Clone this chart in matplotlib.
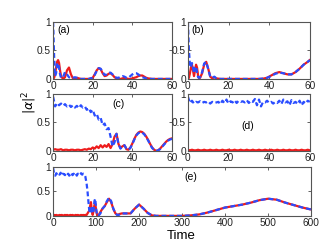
import numpy as np
import matplotlib
matplotlib.use("Agg")
import matplotlib.pyplot as plt

plt.rcParams['font.family'] = ['Liberation Sans', 'DejaVu Sans']

# ---- panel (a)
a_t = [0, 0.5, 1, 1.5, 2, 2.5, 3, 3.5, 4, 5, 6, 7, 8, 9, 10, 11, 12, 13, 14, 16, 18, 20,
       21, 22, 23, 24, 25, 26, 27, 28, 29, 30, 31, 32, 33, 34, 35, 36, 37, 38, 39, 40,
       41, 42, 43, 44, 45, 46, 47, 48, 50, 52, 55, 58, 60]
a_red = [0, 0.02, 0.08, 0.2, 0.3, 0.33, 0.28, 0.15, 0.05, 0.0, 0.03, 0.15, 0.2, 0.08, 0.01,
         0.0, 0.02, 0.01, 0.0, 0, 0, 0.02, 0.08, 0.15, 0.19, 0.17, 0.1, 0.05, 0.06, 0.09,
         0.1, 0.07, 0.03, 0.01, 0, 0, 0.01, 0.02, 0.01, 0, 0, 0.01, 0.02, 0.03, 0.05, 0.06,
         0.06, 0.04, 0.02, 0.01, 0, 0, 0, 0, 0]
a_blue = [1.0, 0.4, 0.05, 0.1, 0.25, 0.28, 0.2, 0.08, 0.02, 0.03, 0.12, 0.08, 0.03, 0.01,
          0.02, 0.03, 0.02, 0.01, 0, 0, 0, 0.02, 0.07, 0.14, 0.19, 0.18, 0.12, 0.07, 0.08,
          0.11, 0.11, 0.08, 0.04, 0.02, 0.02, 0.04, 0.05, 0.04, 0.02, 0.02, 0.05, 0.08, 0.1,
          0.1, 0.08, 0.05, 0.03, 0.02, 0.01, 0.0, 0, 0, 0, 0, 0]

# ---- panel (b)
b_t = [0, 0.5, 1, 1.5, 2, 2.5, 3, 3.5, 4, 4.5, 5, 5.5, 6, 7, 8, 9, 10, 11, 12, 13, 14,
       16, 20, 25, 30, 35, 37, 39, 41, 43, 45, 47, 49, 51, 53, 55, 57, 59, 60]
b_red = [0, 0.02, 0.1, 0.2, 0.25, 0.15, 0.05, 0.15, 0.25, 0.2, 0.06, 0.01, 0.02, 0.1, 0.25,
         0.3, 0.18, 0.04, 0.01, 0.03, 0.01, 0, 0, 0, 0, 0, 0.005, 0.02, 0.06, 0.1, 0.12,
         0.1, 0.08, 0.08, 0.12, 0.18, 0.25, 0.3, 0.33]
b_blue = [1.0, 0.5, 0.25, 0.2, 0.28, 0.2, 0.1, 0.2, 0.22, 0.12, 0.03, 0.02, 0.03, 0.12, 0.27,
          0.3, 0.17, 0.04, 0.02, 0.04, 0.01, 0, 0, 0, 0, 0, 0.005, 0.02, 0.05, 0.09, 0.11,
          0.1, 0.08, 0.08, 0.12, 0.18, 0.25, 0.3, 0.33]

# ---- panel (c)
c_t = list(range(0, 61))
c_red = [0.02, 0.03, 0.02, 0.02, 0.03, 0.01, 0.02, 0.02, 0.01, 0.02, 0.02, 0.01, 0.02, 0.02,
         0.01, 0.02, 0.03, 0.02, 0.04, 0.03, 0.06, 0.04, 0.08, 0.05, 0.1, 0.06, 0.1, 0.07,
         0.12, 0.05, 0.12, 0.25, 0.3, 0.12, 0.05, 0.08, 0.1, 0.03, 0.02, 0.06, 0.13, 0.21,
         0.28, 0.32, 0.34, 0.33, 0.3, 0.25, 0.19, 0.12, 0.06, 0.02, 0.0, 0.01, 0.04, 0.08,
         0.12, 0.16, 0.19, 0.21, 0.22]
c_blue = [0.95, 0.78, 0.84, 0.8, 0.83, 0.79, 0.82, 0.78, 0.81, 0.77, 0.8, 0.76, 0.79, 0.75,
          0.8, 0.76, 0.78, 0.72, 0.75, 0.68, 0.72, 0.62, 0.65, 0.55, 0.58, 0.45, 0.48, 0.38,
          0.4, 0.25, 0.08, 0.15, 0.3, 0.12, 0.04, 0.08, 0.1, 0.04, 0.02, 0.05, 0.12, 0.2,
          0.27, 0.31, 0.33, 0.32, 0.29, 0.24, 0.18, 0.11, 0.05, 0.02, 0.0, 0.01, 0.03, 0.07,
          0.11, 0.15, 0.18, 0.2, 0.21]

# ---- panel (d)
d_t = list(range(0, 61))
d_red = [0.02, 0.01, 0.02, 0.01, 0.01, 0.02, 0.01, 0.01, 0.02, 0.01, 0.01, 0.02, 0.01, 0.01,
         0.02, 0.01, 0.01, 0.02, 0.01, 0.01, 0.02, 0.01, 0.01, 0.02, 0.01, 0.01, 0.02, 0.01,
         0.01, 0.02, 0.01, 0.01, 0.02, 0.01, 0.01, 0.02, 0.01, 0.01, 0.02, 0.01, 0.01, 0.02,
         0.01, 0.01, 0.02, 0.01, 0.01, 0.02, 0.01, 0.01, 0.02, 0.01, 0.01, 0.02, 0.01, 0.01,
         0.02, 0.01, 0.01, 0.02, 0.01]
d_blue = [0.95, 0.84, 0.88, 0.83, 0.86, 0.85, 0.87, 0.84, 0.86, 0.85, 0.87, 0.83, 0.86, 0.84,
          0.85, 0.86, 0.82, 0.88, 0.84, 0.9, 0.83, 0.87, 0.85, 0.89, 0.84, 0.88, 0.86, 0.87,
          0.85, 0.89, 0.84, 0.88, 0.86, 0.91, 0.8, 0.9, 0.78, 0.86, 0.85, 0.88, 0.84, 0.86,
          0.83, 0.86, 0.84, 0.88, 0.82, 0.9, 0.85, 0.87, 0.8, 0.89, 0.84, 0.86, 0.82, 0.88,
          0.8, 0.86, 0.83, 0.88, 0.86]

# ---- panel (e)
e_t = [0, 2.5, 5, 7.5, 10, 12.5, 15, 17.5, 20, 22.5, 25, 27.5, 30, 32.5, 35, 37.5, 40, 42.5,
       45, 47.5, 50, 52.5, 55, 57.5, 60, 62.5, 65, 67.5, 70, 72.5, 75,
       78, 80, 82, 84, 86, 88, 90, 92, 94, 96, 98, 100, 102,
       105, 110, 115, 120, 125, 130, 135, 140, 145, 150, 155, 160,
       170, 180, 190, 200, 210, 220, 230, 240,
       260, 280, 300, 320, 340, 360, 380, 400, 420, 440, 460, 480, 500, 520, 540, 560, 580, 600]
e_red = [0.01, 0.02, 0.01, 0.02, 0.01, 0.01, 0.02, 0.01, 0.02, 0.01, 0.01, 0.02, 0.01, 0.02,
         0.01, 0.01, 0.02, 0.01, 0.02, 0.01, 0.01, 0.02, 0.01, 0.02, 0.01, 0.01, 0.02, 0.01,
         0.02, 0.01, 0.02,
         0.02, 0.05, 0.08, 0.1, 0.2, 0.28, 0.1, 0.02, 0.1, 0.22, 0.25, 0.12, 0.03,
         0.0, 0.08, 0.15, 0.2, 0.28, 0.35, 0.28, 0.14, 0.05, 0.02, 0.04, 0.05,
         0.05, 0.05, 0.15, 0.23, 0.15, 0.06, 0.01, 0.0,
         0, 0, 0, 0.01, 0.03, 0.07, 0.12, 0.17, 0.2, 0.23, 0.27, 0.32, 0.35, 0.33, 0.27,
         0.22, 0.17, 0.13]
e_blue = [0.98, 0.85, 0.82, 0.87, 0.83, 0.86, 0.84, 0.88, 0.82, 0.86, 0.85, 0.83, 0.87, 0.84,
          0.86, 0.82, 0.85, 0.88, 0.83, 0.86, 0.84, 0.87, 0.82, 0.86, 0.85, 0.83, 0.87, 0.84,
          0.86, 0.85, 0.8,
          0.65, 0.5, 0.3, 0.12, 0.05, 0.1, 0.2, 0.05, 0.1, 0.3, 0.35, 0.15, 0.03,
          0.0, 0.05, 0.15, 0.2, 0.3, 0.37, 0.3, 0.15, 0.05, 0.01, 0.03, 0.05,
          0.05, 0.05, 0.15, 0.23, 0.15, 0.06, 0.01, 0.0,
          0, 0, 0, 0.01, 0.03, 0.07, 0.12, 0.17, 0.2, 0.23, 0.27, 0.32, 0.35, 0.33, 0.27,
          0.22, 0.17, 0.13]

red = '#ee1c1c'
blue = '#2a4dff'
edge = '#555555'

fig = plt.figure(figsize=(3.32, 2.49), dpi=100)

panels = [
    ([0.160, 0.683, 0.358, 0.229], a_t, a_red, a_blue, '(a)', (0.04, 0.86, 'left'), 60),
    ([0.566, 0.683, 0.367, 0.229], b_t, b_red, b_blue, '(b)', (0.03, 0.86, 'left'), 60),
    ([0.160, 0.394, 0.358, 0.229], c_t, c_red, c_blue, '(c)', (0.55, 0.82, 'center'), 60),
    ([0.566, 0.394, 0.367, 0.229], d_t, d_red, d_blue, '(d)', (0.49, 0.44, 'center'), 60),
    ([0.160, 0.133, 0.777, 0.197], e_t, e_red, e_blue, '(e)', (0.535, 0.80, 'center'), 600),
]

for rect, t, r, b, lab, (lx, ly, ha), xmax in panels:
    ax = fig.add_axes(rect)
    ax.plot(t, r, color=red, lw=1.6)
    ax.plot(t, b, color=blue, lw=1.6, ls=(0, (2.2, 1.3)))
    ax.set_xlim(0, xmax)
    ax.set_ylim(0, 1)
    if xmax == 60:
        ax.set_xticks([0, 20, 40, 60])
    else:
        ax.set_xticks([0, 100, 200, 300, 400, 500, 600])
    ax.set_yticks([0, 0.5, 1])
    ax.set_yticklabels(['0', '0.5', '1'])
    ax.tick_params(direction='in', length=2, width=0.5, labelsize=7.3, pad=1.5,
                   top=True, right=True, colors='#222222')
    for s in ax.spines.values():
        s.set_color(edge)
        s.set_linewidth(0.8)
    ax.text(lx, ly, lab, transform=ax.transAxes, ha=ha, va='center', fontsize=7.5)

fig.text(0.088, 0.59, r'$|\alpha|^2$', rotation=90, ha='center', va='center', fontsize=9)
fig.text(0.545, 0.053, 'Time', ha='center', va='center', fontsize=9.5)

fig.savefig('out.png', dpi=100)
